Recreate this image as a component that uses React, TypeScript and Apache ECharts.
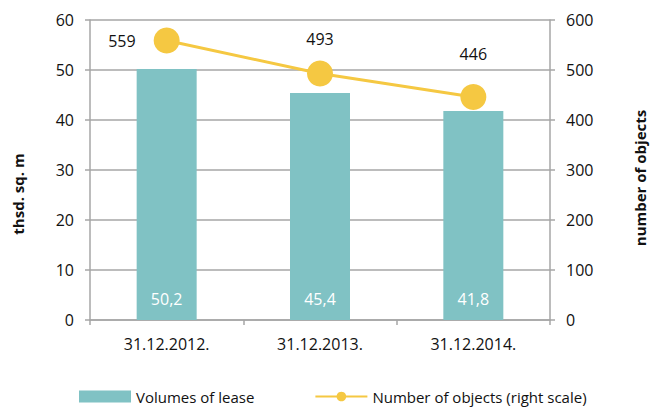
import React, { useEffect, useRef } from "react";
import * as echarts from "echarts";

const categories = ["31.12.2012.", "31.12.2013.", "31.12.2014."];
const leaseVolumes = [50.2, 45.4, 41.8];
const objectCounts = [559, 493, 446];
const leaseLabels = ["50,2", "45,4", "41,8"];

const FONT = "'Open Sans', 'Noto Sans', sans-serif";
const GRID = "#a6a6a6";

export default function App() {
  const ref = useRef<HTMLDivElement>(null);
  useEffect(() => {
    const chart = echarts.init(ref.current!, null, { renderer: "svg" });
    chart.setOption({
      animation: false,
      textStyle: { fontFamily: FONT },
      grid: { left: 90, right: 102, top: 20, bottom: 89 },
      legend: {
        left: 74,
        top: 384,
        itemWidth: 52,
        itemHeight: 12,
        itemGap: 60,
        textStyle: { fontSize: 15, color: "#111", fontFamily: FONT },
        data: [
          { name: "Volumes of lease", icon: "rect" },
          { name: "Number of objects (right scale)" },
        ],
      },
      graphic: [
        {
          type: "text",
          x: 18,
          y: 194,
          rotation: Math.PI / 2,
          style: {
            text: "thsd. sq. m",
            fontSize: 15,
            fontWeight: "bold",
            fontFamily: FONT,
            fill: "#111",
            align: "center",
            verticalAlign: "middle",
          },
        },
        {
          type: "text",
          x: 640,
          y: 178,
          rotation: Math.PI / 2,
          style: {
            text: "number of objects",
            fontSize: 15,
            fontWeight: "bold",
            fontFamily: FONT,
            fill: "#111",
            align: "center",
            verticalAlign: "middle",
          },
        },
      ],
      xAxis: {
        type: "category",
        data: categories,
        axisLine: { lineStyle: { color: GRID, width: 1.5 } },
        axisTick: { show: true, length: 5, lineStyle: { color: GRID, width: 1.5 } },
        axisLabel: { fontSize: 16, color: "#111", margin: 16, fontFamily: FONT },
      },
      yAxis: [
        {
          type: "value",
          min: 0,
          max: 60,
          interval: 10,
          axisLine: { show: true, lineStyle: { color: GRID, width: 1.5 } },
          axisTick: { show: true, length: 5, lineStyle: { color: GRID, width: 1.5 } },
          axisLabel: { fontSize: 16, color: "#111", margin: 16, fontFamily: FONT },
          splitLine: { show: true, lineStyle: { color: GRID, width: 1.5 } },
        },
        {
          type: "value",
          min: 0,
          max: 600,
          interval: 100,
          axisLine: { show: true, lineStyle: { color: GRID, width: 1.5 } },
          axisTick: { show: true, length: 5, lineStyle: { color: GRID, width: 1.5 } },
          axisLabel: { fontSize: 16, color: "#111", margin: 16, fontFamily: FONT },
          splitLine: { show: false },
        },
      ],
      series: [
        {
          name: "Volumes of lease",
          type: "bar",
          barWidth: 60,
          yAxisIndex: 0,
          itemStyle: { color: "#80c2c4" },
          data: leaseVolumes,
          label: {
            show: true,
            position: "insideBottom",
            distance: 13,
            color: "#ffffff",
            fontSize: 16,
            fontFamily: FONT,
            formatter: (p: any) => leaseLabels[p.dataIndex],
          },
        },
        {
          name: "Number of objects (right scale)",
          type: "line",
          yAxisIndex: 1,
          symbol: "circle",
          symbolSize: 26,
          lineStyle: { color: "#f5c842", width: 3 },
          itemStyle: { color: "#f5c842" },
          data: objectCounts.map((v, i) => ({
            value: v,
            label:
              i === 0
                ? { position: "left", distance: 18 }
                : { position: "top", distance: i === 1 ? 14 : 22 },
          })),
          label: {
            show: true,
            color: "#111",
            fontSize: 16,
            fontFamily: FONT,
          },
        },
      ],
    });
    return () => chart.dispose();
  }, []);
  return <div ref={ref} style={{ width: 652, height: 409, position: "absolute", left: 0, top: 0 }} />;
}
